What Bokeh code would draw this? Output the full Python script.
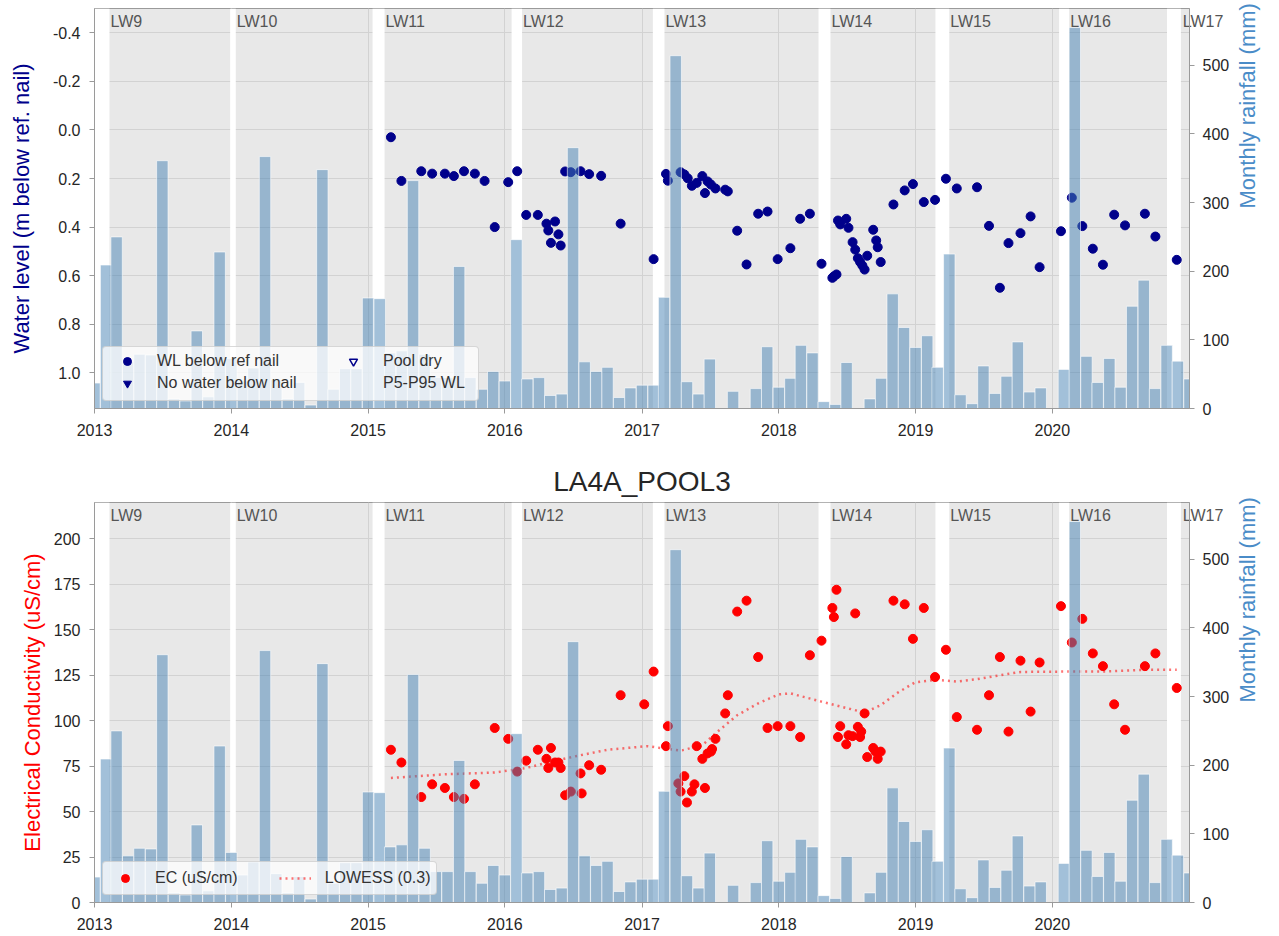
import math
import pandas as pd
from bokeh.plotting import figure
from bokeh.models import (Range1d, LinearAxis, FixedTicker, DatetimeTickFormatter,
                          PrintfTickFormatter, BoxAnnotation, Label, Legend, LegendItem,
                          ColumnDataSource, CustomJSTickFormatter, Title)
from bokeh.layouts import column
from bokeh.embed import file_html
from bokeh.resources import INLINE

FONT = "Liberation Sans"

# ---------------- data ----------------
site_title = "LA4A_POOL3"
years = [2013, 2014, 2015, 2016, 2017, 2018, 2019, 2020]
rain_first_month = "2013-01-01"
rain_mm = [
    37, 209, 250, 68, 79, 78, 361, 14, 11, 113, 17, 228,     # 2013
    73, 40, 59, 367, 42, 14, 38, 5, 348, 28, 58, 58,        # 2014
    161, 160, 81, 84, 332, 79, 45, 45, 207, 45, 28, 54,     # 2015
    40, 246, 43, 45, 19, 21, 380, 68, 54, 60, 16, 30,       # 2016
    34, 34, 162, 514, 39, 21, 72, 0, 25, 0, 29, 90,         # 2017
    31, 44, 92, 81, 10, 6, 67, 0, 14, 44, 167, 118,         # 2018
    89, 106, 60, 225, 20, 7, 62, 22, 47, 97, 24, 30,        # 2019
    0, 57, 555, 76, 38, 73, 31, 149, 187, 29, 92, 69,       # 2020
    43,                                                     # 2021
]
rain_ticks = [0, 100, 200, 300, 400, 500]

lw_names = ["LW9", "LW10", "LW11", "LW12", "LW13", "LW14", "LW15", "LW16", "LW17"]
lw_start = ["2013-02-10", "2014-01-13", "2015-02-14", "2016-02-16", "2017-03-02",
            "2018-05-19", "2019-04-01", "2020-02-15", "2020-12-09"]
lw_end = ["2013-12-29", "2015-01-13", "2016-01-19", "2017-01-30", "2018-04-17",
          "2019-02-23", "2020-01-19", "2020-11-02", "2021-06-30"]

wl_dates = [
    "2015-03-03", "2015-03-31", "2015-05-23", "2015-06-21", "2015-07-25", "2015-08-18",
    "2015-09-14", "2015-10-13", "2015-11-08", "2015-12-05", "2016-01-10", "2016-02-03",
    "2016-02-27", "2016-03-29", "2016-04-21", "2016-04-26", "2016-05-03", "2016-05-14",
    "2016-05-23", "2016-05-29", "2016-06-10", "2016-06-25", "2016-07-21", "2016-08-13",
    "2016-09-14", "2016-11-05", "2017-02-01", "2017-03-06", "2017-03-11", "2017-04-14",
    "2017-04-24", "2017-05-03", "2017-05-14", "2017-05-27", "2017-06-11", "2017-06-18",
    "2017-06-25", "2017-07-04", "2017-07-16", "2017-08-11", "2017-08-18", "2017-09-12",
    "2017-10-07", "2017-11-07", "2017-12-02", "2017-12-29", "2018-02-01", "2018-02-27",
    "2018-03-25", "2018-04-25", "2018-05-24", "2018-05-28", "2018-06-04", "2018-06-08",
    "2018-06-14", "2018-06-30", "2018-07-06", "2018-07-17", "2018-07-24", "2018-07-31",
    "2018-08-06", "2018-08-12", "2018-08-18", "2018-08-25", "2018-09-10", "2018-09-18",
    "2018-09-22", "2018-09-30", "2018-11-03", "2018-12-03", "2018-12-25", "2019-01-23",
    "2019-02-22", "2019-03-23", "2019-04-21", "2019-06-14", "2019-07-16", "2019-08-14",
    "2019-09-06", "2019-10-08", "2019-11-04", "2019-11-28", "2020-01-24", "2020-02-22",
    "2020-03-21", "2020-04-18", "2020-05-15", "2020-06-14", "2020-07-13", "2020-09-04",
    "2020-10-02", "2020-11-28",
]
wl_m = [
    0.03, 0.21, 0.17, 0.18, 0.18, 0.19,
    0.17, 0.18, 0.21, 0.40, 0.215, 0.17,
    0.35, 0.35, 0.386, 0.414, 0.465, 0.377,
    0.43, 0.476, 0.171, 0.174, 0.17, 0.182,
    0.189, 0.386, 0.532, 0.181, 0.209, 0.174,
    0.183, 0.199, 0.23, 0.218, 0.19, 0.26,
    0.212, 0.225, 0.241, 0.246, 0.253, 0.415,
    0.554, 0.345, 0.336, 0.532, 0.487, 0.366,
    0.345, 0.551, 0.609, 0.603, 0.595, 0.373,
    0.389, 0.366, 0.403, 0.462, 0.493, 0.528,
    0.544, 0.558, 0.575, 0.518, 0.411, 0.455,
    0.483, 0.544, 0.307, 0.249, 0.223, 0.297,
    0.288, 0.201, 0.241, 0.236, 0.395, 0.65,
    0.466, 0.425, 0.356, 0.565, 0.417, 0.279,
    0.396, 0.489, 0.555, 0.349, 0.393, 0.345,
    0.439, 0.535,
]
wl_ticks = [-0.4, -0.2, 0.0, 0.2, 0.4, 0.6, 0.8, 1.0]

ec_dates = [
    "2015-03-03", "2015-03-31", "2015-05-23", "2015-06-21", "2015-07-25", "2015-08-18",
    "2015-09-14", "2015-10-13", "2015-12-05", "2016-01-10", "2016-02-03", "2016-02-27",
    "2016-03-29", "2016-04-21", "2016-04-26", "2016-05-03", "2016-05-14", "2016-05-23",
    "2016-05-29", "2016-06-10", "2016-06-25", "2016-07-21", "2016-07-24", "2016-08-13",
    "2016-09-14", "2016-11-05", "2017-01-07", "2017-02-01", "2017-03-06", "2017-03-11",
    "2017-04-08", "2017-04-14", "2017-04-24", "2017-05-01", "2017-05-14", "2017-05-21",
    "2017-05-27", "2017-06-11", "2017-06-18", "2017-06-25", "2017-07-04", "2017-07-07",
    "2017-07-16", "2017-08-11", "2017-08-18", "2017-09-12", "2017-10-07", "2017-11-07",
    "2017-12-02", "2017-12-29", "2018-02-01", "2018-02-27", "2018-03-25", "2018-04-25",
    "2018-05-24", "2018-05-28", "2018-06-04", "2018-06-08", "2018-06-14", "2018-06-30",
    "2018-07-06", "2018-07-17", "2018-07-24", "2018-07-31", "2018-08-06", "2018-08-09",
    "2018-08-18", "2018-08-25", "2018-09-10", "2018-09-16", "2018-09-22", "2018-09-30",
    "2018-11-03", "2018-12-03", "2018-12-25", "2019-01-23", "2019-02-22", "2019-03-23",
    "2019-04-21", "2019-06-14", "2019-07-16", "2019-08-14", "2019-09-06", "2019-10-08",
    "2019-11-04", "2019-11-28", "2020-01-24", "2020-02-22", "2020-03-21", "2020-04-18",
    "2020-05-15", "2020-06-14", "2020-07-13", "2020-09-04", "2020-10-02", "2020-11-28",
]
ec_us = [
    84, 77, 58, 65, 63, 58,
    57, 65, 96, 90, 72, 78,
    84, 79, 74, 85, 77, 77,
    74, 59, 61, 71, 60, 75.5,
    73, 114, 109, 127, 86, 97,
    65.5, 61, 69.5, 55, 61, 65,
    86, 79, 63, 82, 83, 84.4,
    90, 104, 114, 160, 166, 135,
    96, 97, 97, 91, 136, 144,
    162, 157, 172, 91, 97, 87,
    92, 91.5, 159, 96.6, 91, 94,
    104, 80, 85, 83, 79, 83,
    166, 164, 145, 162, 124, 139,
    102, 95, 114, 135, 94, 133,
    105, 132, 163, 143, 156, 137,
    130, 109, 95, 130, 137, 118,
]
ec_ticks = [0, 25, 50, 75, 100, 125, 150, 175, 200]

lowess_dates = [
    "2015-03-03", "2015-07-25", "2015-12-05", "2016-02-27", "2016-05-14", "2016-07-21",
    "2016-10-01", "2017-01-15", "2017-04-14", "2017-06-11", "2017-07-16", "2017-09-12",
    "2017-11-07", "2018-01-01", "2018-02-01", "2018-03-01", "2018-04-25", "2018-06-30",
    "2018-08-18", "2018-09-30", "2018-11-15", "2018-12-30", "2019-02-22", "2019-04-21",
    "2019-06-14", "2019-08-14", "2019-10-08", "2020-01-24", "2020-05-15", "2020-09-04",
    "2020-11-28",
]
lowess_us = [
    68.5, 70.5, 71.5, 74, 78, 81,
    84, 86, 83.5, 86.5, 93, 103,
    109.5, 114.5, 115, 113.5, 110.5, 107,
    104.5, 108.5, 115.5, 121, 122.5, 121.5,
    122.8, 125, 126.8, 127, 127, 128,
    128,
]

# ---------------- helpers ----------------
def ms(d):
    return pd.Timestamp(d).value / 1e6

DAY_MS = 24 * 3600 * 1000
months = pd.date_range(rain_first_month, periods=len(rain_mm), freq="MS")
rain_src = ColumnDataSource(dict(x=months, top=rain_mm))
rain_top = max(rain_mm) * 1.05
x_range = Range1d(pd.Timestamp(f"{years[0]}-01-01"), pd.Timestamp(f"{years[-1] + 1}-01-01"))
year_ticks = [ms(f"{y}-01-01") for y in years]
bar_width = 30.4 * DAY_MS
# axis tick labels are centred on the tick: pad on the left so the visible
# text starts at the tick, as the other (left-aligned) panel labels do
LABEL_PAD = "\u00a0" * 10

TICK_C = "#262626"
SPINE_C = "#9a9a9a"
LW_C = "#555555"
HAS_LABEL_ORIENT = "axis_label_orientation" in LinearAxis.properties()


def style_axis(ax, label, color):
    ax.axis_label = label
    ax.axis_label_text_font = FONT
    ax.axis_label_text_font_size = "22px"
    ax.axis_label_text_font_style = "normal"
    ax.axis_label_text_color = color
    ax.major_label_text_font = FONT
    ax.major_label_text_font_size = "16px"
    ax.major_label_text_color = TICK_C
    ax.axis_line_color = SPINE_C
    ax.major_tick_line_color = SPINE_C
    ax.major_tick_in = 0
    ax.major_tick_out = 5
    ax.minor_tick_line_color = None
    ax.major_label_standoff = 9
    ax.axis_label_standoff = 10


def make_fig(height, top_border, bottom_border, y_range, left_label, left_color, left_ticks, left_fmt):
    p = figure(width=1275, height=height, x_axis_type="datetime", x_range=x_range,
               y_range=y_range, output_backend="svg", toolbar_location=None, tools="",
               min_border_left=94, min_border_right=83,
               min_border_top=top_border, min_border_bottom=bottom_border)
    p.extra_y_ranges = {"rain": Range1d(0, rain_top)}
    p.background_fill_color = "#e8e8e8"
    p.border_fill_color = "white"
    p.outline_line_color = SPINE_C
    p.outline_line_width = 1

    p.xaxis.ticker = FixedTicker(ticks=year_ticks)
    p.xaxis.formatter = DatetimeTickFormatter(years="%Y", months="%Y", days="%Y",
                                              hours="%Y", minutes="%Y")
    style_axis(p.xaxis[0], "", TICK_C)
    p.xaxis.major_label_standoff = 10

    p.yaxis.ticker = FixedTicker(ticks=left_ticks)
    if left_fmt:
        p.yaxis.formatter = PrintfTickFormatter(format=left_fmt)
    style_axis(p.yaxis[0], left_label, left_color)

    p.xgrid.grid_line_color = "#d2d2d2"
    p.ygrid.grid_line_color = "#d2d2d2"
    p.xgrid.grid_line_width = 1
    p.ygrid.grid_line_width = 1

    rax = LinearAxis(y_range_name="rain", ticker=FixedTicker(ticks=rain_ticks))
    style_axis(rax, "Monthly rainfall (mm)", "#4a8cc8")
    rax.major_label_standoff = 8
    rax.axis_label_standoff = 15
    if HAS_LABEL_ORIENT:
        rax.axis_label_orientation = math.pi / 2
    p.add_layout(rax, "right")

    # white gaps between longwall panels (grey = active panel period)
    gaps = [(ms(x_range.start) - 1e10, ms(lw_start[0]))]
    for i in range(len(lw_names) - 1):
        gaps.append((ms(lw_end[i]), ms(lw_start[i + 1])))
    for l, r in gaps:
        p.add_layout(BoxAnnotation(left=l, right=r, fill_color="white", fill_alpha=1.0,
                                   line_alpha=0, level="underlay"))
    return p


def add_lw_labels(p):
    # labels fully inside the frame
    for name, st in zip(lw_names[:-1], lw_start[:-1]):
        lbl = Label(x=ms(st), y=rain_top, y_range_name="rain", text=name,
                    text_baseline="top", x_offset=1, y_offset=-4,
                    text_font=FONT, text_font_size="16px", text_color=LW_C)
        p.add_layout(lbl)
    # the last label runs past the right edge of the frame: draw it as an
    # (invisible) top-axis tick label so that it is not clipped
    ax = LinearAxis(ticker=FixedTicker(ticks=[ms(lw_start[-1])]),
                    formatter=CustomJSTickFormatter(args=dict(name=LABEL_PAD + lw_names[-1]),
                                                    code="return name"))
    ax.axis_line_color = None
    ax.major_tick_line_color = None
    ax.minor_tick_line_color = None
    ax.major_tick_in = 0
    ax.major_tick_out = 0
    ax.major_label_standoff = -21
    ax.major_label_text_font = FONT
    ax.major_label_text_font_size = "16px"
    ax.major_label_text_color = LW_C
    p.add_layout(ax, "above")


def add_bars(p):
    p.vbar(x="x", top="top", width=bar_width, bottom=0, source=rain_src, y_range_name="rain",
           fill_color="#4682B4", fill_alpha=0.5, line_color="white", line_width=1, line_alpha=0.6)


def legend_common(lg):
    lg.label_text_font = FONT
    lg.label_text_font_size = "16px"
    lg.label_text_color = "#333333"
    lg.glyph_width = 32
    lg.glyph_height = 20
    lg.label_height = 20
    lg.label_standoff = 14
    lg.level = "underlay"
    lg.margin = 0


def box_legend(p, w, h):
    dummy = p.scatter(x=[x_range.start], y=[float("nan")], size=1, alpha=0)
    lg = Legend(items=[LegendItem(label=" ", renderers=[dummy])], location=(8, 7),
                padding=0, glyph_width=1, glyph_height=1, label_width=w, label_height=h,
                label_standoff=0, border_line_color="#b4b4b4", border_line_width=1.2,
                background_fill_color="white", background_fill_alpha=0.75, margin=0)
    lg.level = "underlay"
    if "border_radius" in Legend.properties():
        lg.border_radius = 4
    p.add_layout(lg)


# ---------------- top: water level ----------------
p1 = make_fig(448, 8, 40, Range1d(1.147, -0.5), "Water level (m below ref. nail)",
              "#00008B", wl_ticks, "%.1f")
p1.yaxis[0].axis_label_standoff = 16
add_lw_labels(p1)

nodata = dict(x=[x_range.start], y=[float("nan")])
wl_src = ColumnDataSource(dict(x=pd.to_datetime(wl_dates), y=wl_m))
r_wl = p1.scatter(x="x", y="y", source=wl_src, size=9, color="#00008B")
r_nowater = p1.scatter(x="x", y="y", source=ColumnDataSource(nodata),
                       marker="inverted_triangle", size=9, color="#00008B")
r_dry = p1.scatter(x="x", y="y", source=ColumnDataSource(nodata),
                   marker="inverted_triangle", size=10, fill_alpha=0,
                   line_color="#00008B", line_width=1.5)
r_p595 = p1.scatter(x="x", y="y", source=ColumnDataSource(nodata), size=1,
                    fill_alpha=0, line_alpha=0)
add_bars(p1)

box_legend(p1, 374, 53)
lgA = Legend(items=[LegendItem(label="WL below ref nail", renderers=[r_wl]),
                    LegendItem(label="No water below nail", renderers=[r_nowater])],
             location=(12, 10), orientation="vertical", padding=5, spacing=2,
             border_line_alpha=0, background_fill_alpha=0)
legend_common(lgA)
p1.add_layout(lgA)
lgB = Legend(items=[LegendItem(label="Pool dry", renderers=[r_dry]),
                    LegendItem(label="P5-P95 WL", renderers=[r_p595])],
             location=(238, 10), orientation="vertical", padding=5, spacing=2,
             border_line_alpha=0, background_fill_alpha=0)
legend_common(lgB)
p1.add_layout(lgB)

# ---------------- bottom: EC ----------------
p2 = make_fig(488, 54, 34, Range1d(0, 220), "Electrical Conductivity (uS/cm)",
              "red", ec_ticks, None)
p2.yaxis[0].axis_label_standoff = 6
add_lw_labels(p2)
p2.add_layout(Title(text=site_title, align="center", text_font=FONT, text_font_size="28px",
                    text_font_style="normal", text_color=TICK_C, standoff=12), "above")

ec_src = ColumnDataSource(dict(x=pd.to_datetime(ec_dates), y=ec_us))
r_ec = p2.scatter(x="x", y="y", source=ec_src, size=9, color="red")
lo_src = ColumnDataSource(dict(x=pd.to_datetime(lowess_dates), y=lowess_us))
r_lo = p2.line(x="x", y="y", source=lo_src, line_color="red", line_alpha=0.55,
               line_width=2.5, line_dash="2 4")
add_bars(p2)

lgC = Legend(items=[LegendItem(label="EC (uS/cm)", renderers=[r_ec]),
                    LegendItem(label="LOWESS (0.3)", renderers=[r_lo])],
             location=(8, 7), orientation="horizontal", padding=6, spacing=41,
             border_line_color="#b4b4b4", border_line_width=1.2,
             background_fill_color="white", background_fill_alpha=0.75)
legend_common(lgC)
if "border_radius" in Legend.properties():
    lgC.border_radius = 4
p2.add_layout(lgC)

layout = column(p1, p2, spacing=0)
open("out.html", "w").write(file_html(layout, INLINE))
